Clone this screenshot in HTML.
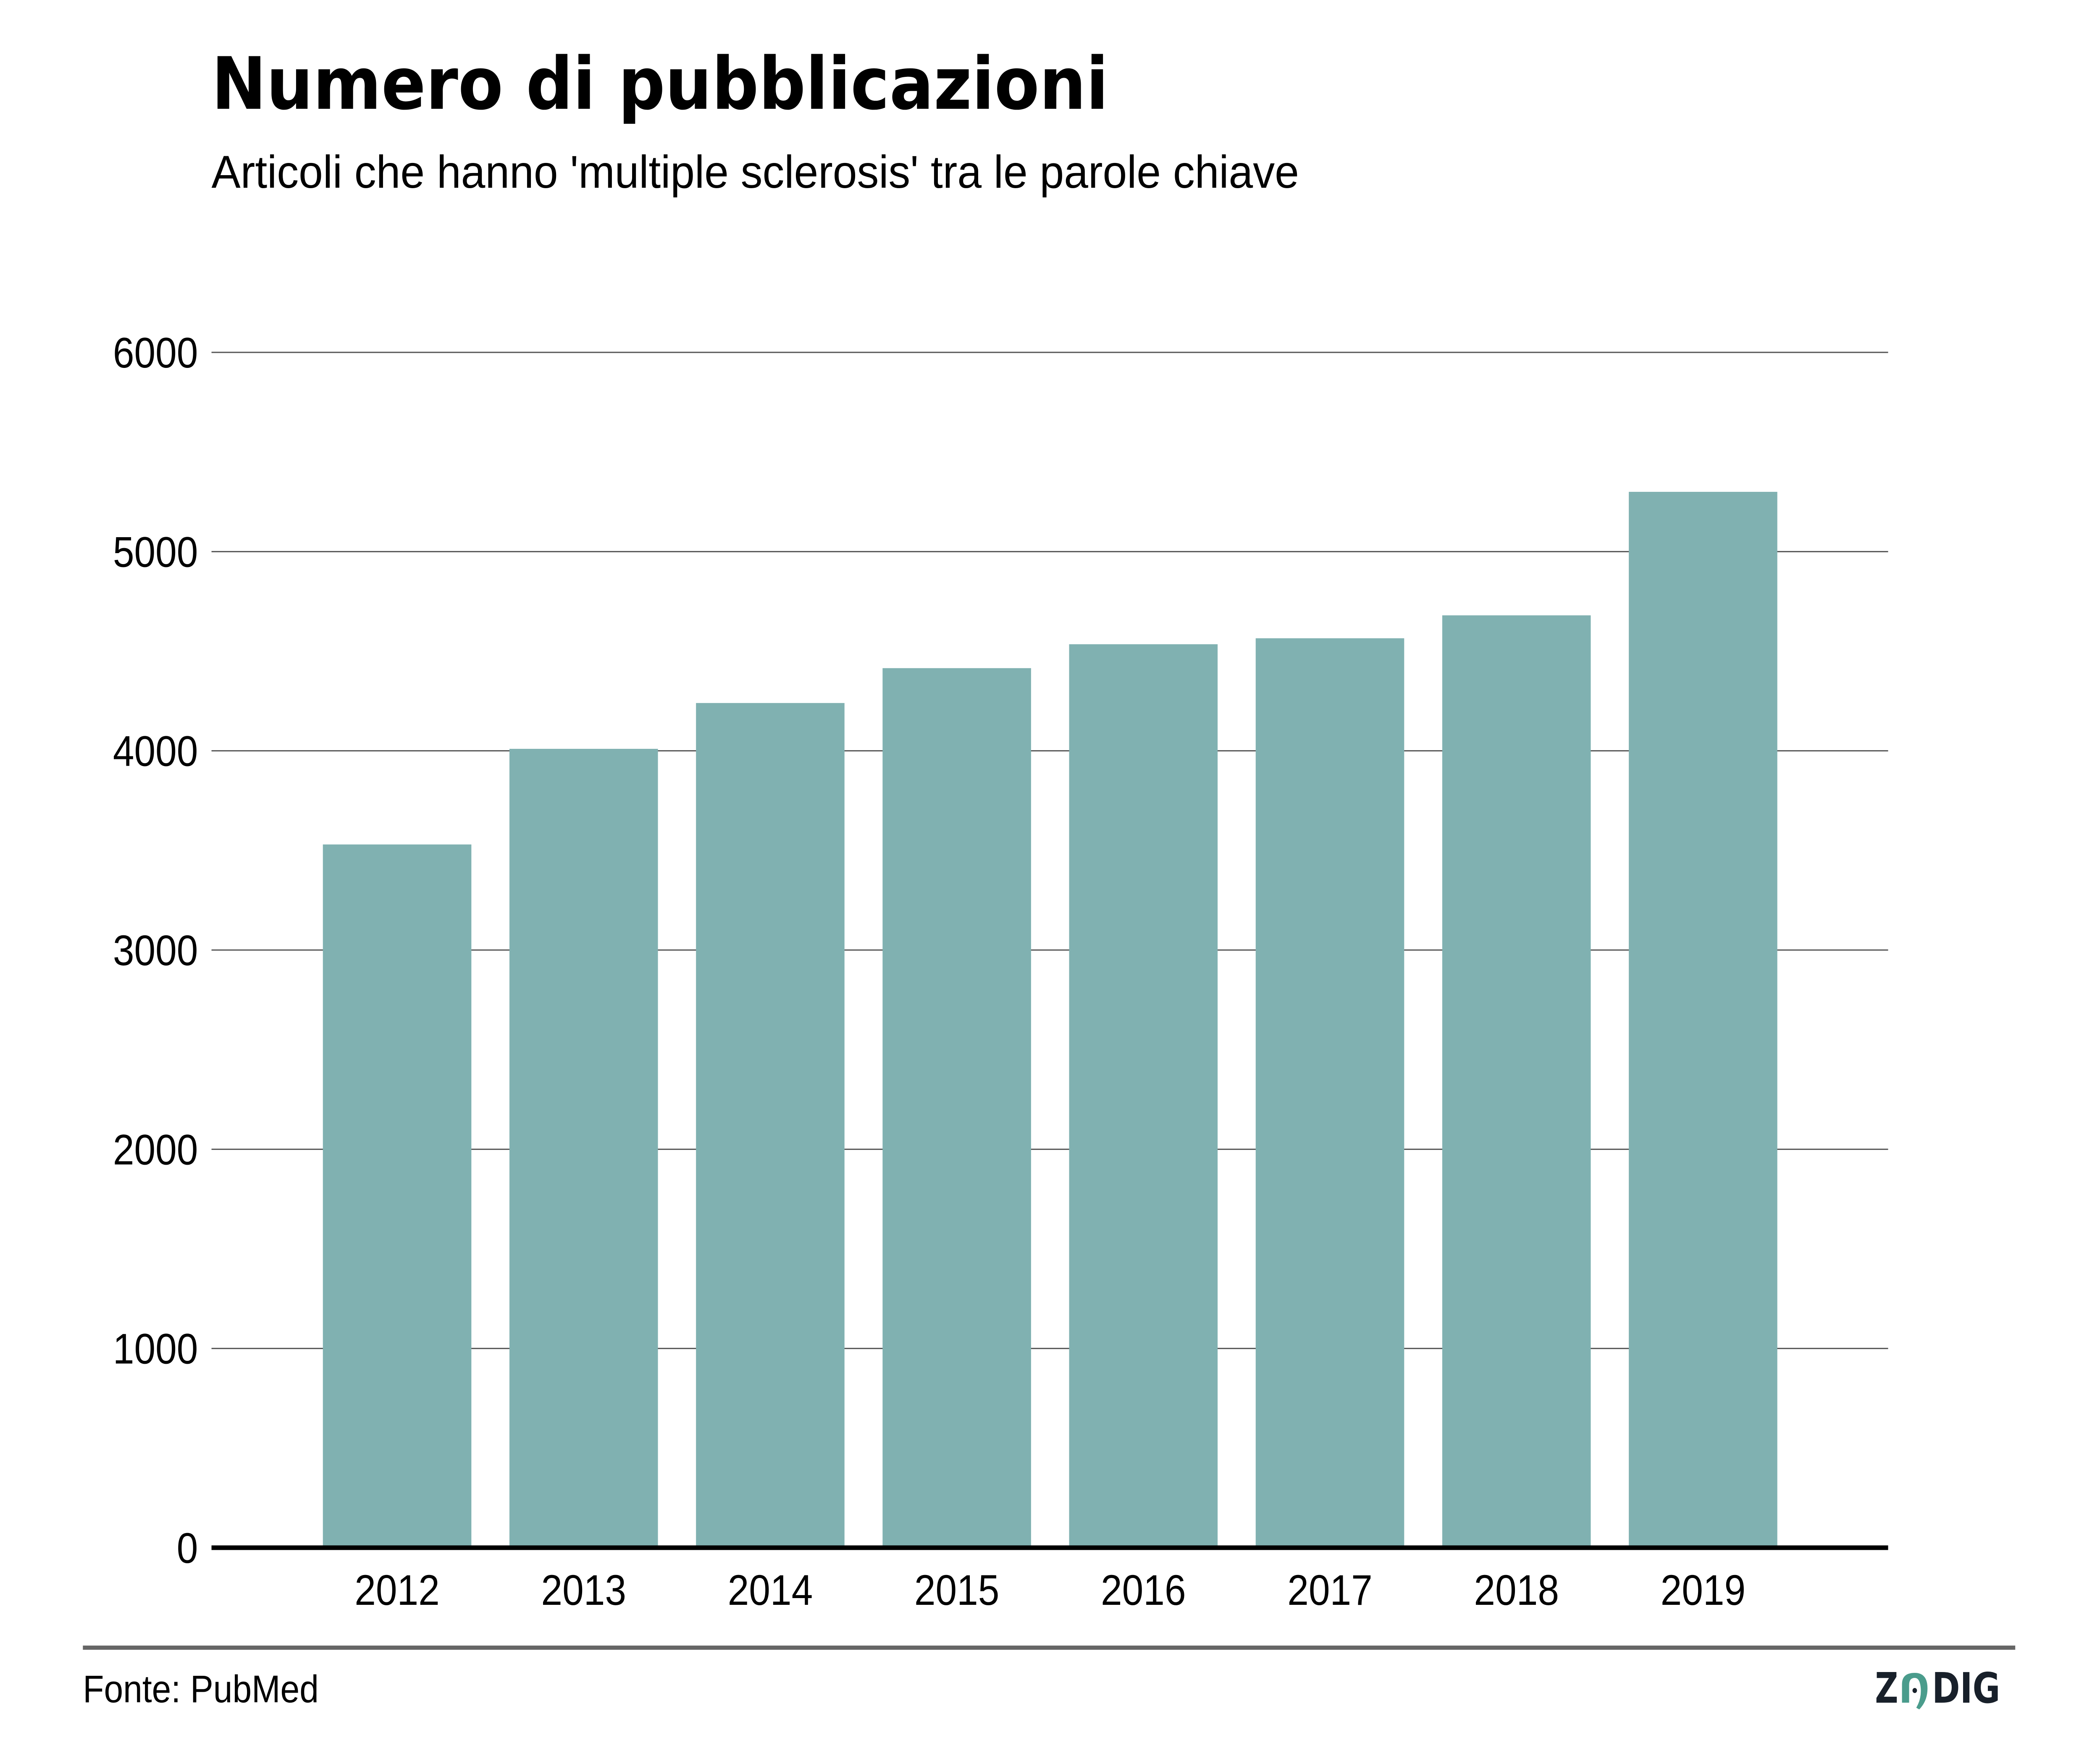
<!DOCTYPE html>
<html><head><meta charset="utf-8"><style>html,body{margin:0;padding:0;background:#fff;width:100%;height:100%;overflow:hidden}svg{display:block;width:100vw;height:100vh}</style></head>
<body>
<svg id="chart" viewBox="0 0 5600 4200" preserveAspectRatio="none" xmlns="http://www.w3.org/2000/svg">
<rect width="5600" height="4200" fill="#fff"/>
<text x="564" y="259" font-family="DejaVu Sans, sans-serif" font-weight="bold" font-size="172" fill="#000" textLength="2392" lengthAdjust="spacingAndGlyphs">Numero di pubblicazioni</text>
<text x="564" y="447" font-family="Liberation Sans, sans-serif" font-size="110" fill="#000" textLength="2900" lengthAdjust="spacingAndGlyphs">Articoli che hanno 'multiple sclerosis' tra le parole chiave</text>
<g id="grid"></g>
<g id="bars"></g>
<g id="xlabels"></g>
<line x1="564" x2="5035" y1="3685" y2="3685" stroke="#000" stroke-width="11"/>
<line x1="221" x2="5374" y1="3923" y2="3923" stroke="#666" stroke-width="10"/>
<text x="221" y="4053" font-family="Liberation Sans, sans-serif" font-size="92" fill="#000">Fonte: PubMed</text>
<g>
<text x="5000" y="4054" font-family="DejaVu Sans, sans-serif" font-weight="bold" font-size="100" fill="#18202a" textLength="62" lengthAdjust="spacingAndGlyphs">Z</text>
<path d="M5072 4054 L5072 4010 Q5072 3983 5106 3983 Q5140 3983 5140 4020 Q5140 4050 5118 4070 L5110 4066 Q5124 4045 5122 4020 Q5120 3995 5106 3995 Q5091 3995 5091 4012 L5091 4054 Z" fill="#4a9c8c"/>
<circle cx="5106" cy="4025" r="6" fill="#18202a"/>
<text x="5152" y="4054" font-family="DejaVu Sans, sans-serif" font-weight="bold" font-size="100" fill="#18202a" textLength="182" lengthAdjust="spacingAndGlyphs">DIG</text>
</g>
</svg>
<script>
const categories = ["2012","2013","2014","2015","2016","2017","2018","2019"];
const values = [3530, 4010, 4240, 4415, 4535, 4565, 4680, 5300];
const yTicks = [0, 1000, 2000, 3000, 4000, 5000, 6000];
const yTickLabels = ["0","1000","2000","3000","4000","5000","6000"];

const NS = "http://www.w3.org/2000/svg";
const plotLeft = 564, plotRight = 5035, yBase = 3685, yTop = 839, yMax = 6000;
const firstCenter = 1059, step = 497.5, barW = 396;
function yScale(v){ return yBase - (v / yMax) * (yBase - yTop); }
function xScale(i){ return firstCenter + i * step; }
function mk(tag, attrs){ const e = document.createElementNS(NS, tag); for (const k in attrs) e.setAttribute(k, attrs[k]); return e; }

const grid = document.getElementById('grid');
yTicks.forEach((t, i) => {
  const y = yScale(t);
  if (t !== 0) {
    const l = mk('line', {x1: plotLeft, x2: plotRight, y1: y, y2: y, stroke: '#555', 'stroke-width': 3});
    
    
    grid.appendChild(l);
  }
  const tx = mk('text', {x: 528, y: y + 36, 'text-anchor': 'end', 'font-family': 'Liberation Sans, sans-serif', 'font-size': 102, fill: '#000'});
  tx.textContent = yTickLabels[i];
  
  
  grid.appendChild(tx);
});

const bars = document.getElementById('bars');
const xl = document.getElementById('xlabels');
categories.forEach((c, i) => {
  const y = yScale(values[i]);
  const r = mk('rect', {x: xScale(i) - barW / 2, y: y, width: barW, height: yBase - y, fill: '#80b1b1'});
  
  
  bars.appendChild(r);
  const t = mk('text', {x: xScale(i), y: 3821, 'text-anchor': 'middle', 'font-family': 'Liberation Sans, sans-serif', 'font-size': 102, fill: '#000'});
  t.textContent = c;
  
  
  xl.appendChild(t);
});
</script>
</body></html>
